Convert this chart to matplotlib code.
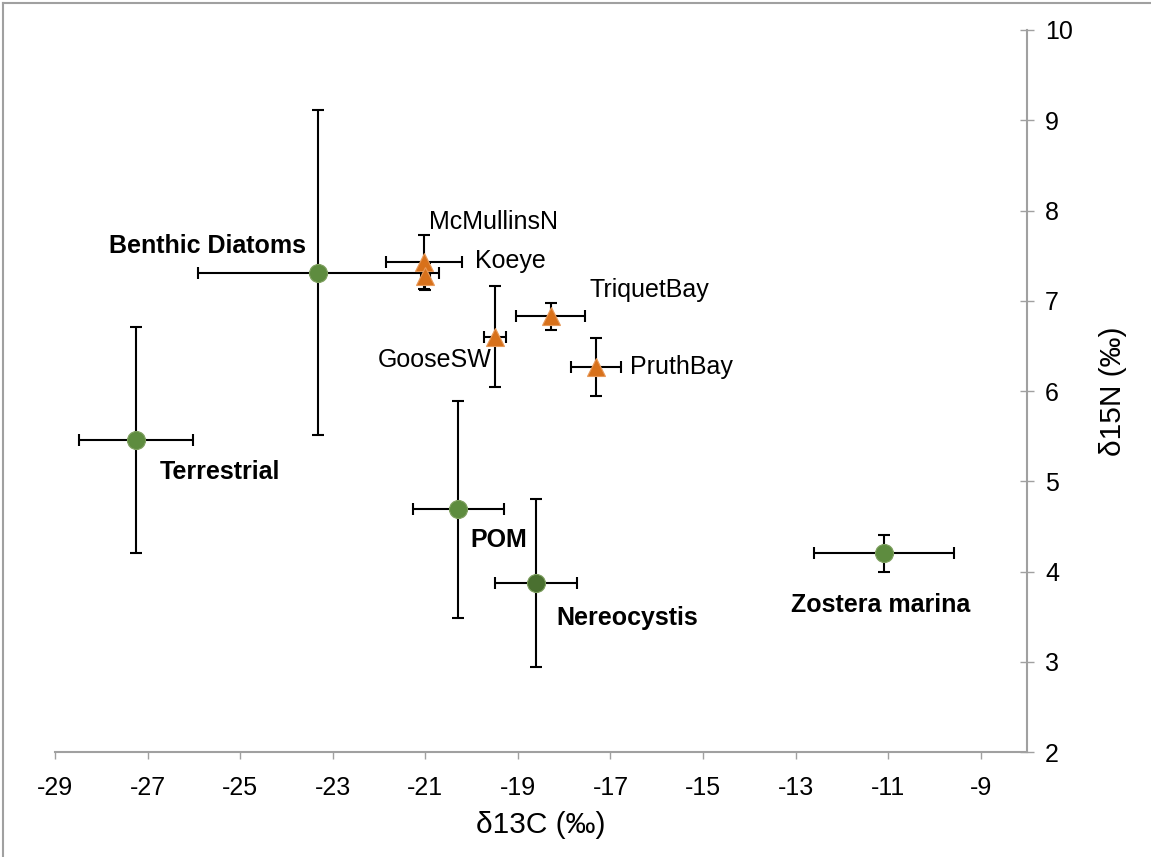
import matplotlib
matplotlib.use("Agg")
import matplotlib.pyplot as plt
from matplotlib.lines import Line2D

plt.rcParams['font.family'] = ['Liberation Sans', 'DejaVu Sans']
plt.rcParams['axes.unicode_minus'] = False

# sources (green circles)
src_names = ['Terrestrial', 'Benthic Diatoms', 'POM', 'Nereocystis', 'Zostera marina']
src_c = [-27.25, -23.31, -20.29, -18.61, -11.09]
src_n = [5.46, 7.31, 4.69, 3.87, 4.2]
src_cerr = [1.23, 2.6, 0.98, 0.88, 1.52]
src_nerr = [1.25, 1.8, 1.2, 0.93, 0.2]
src_colors = ['#5e8c3f', '#5e8c3f', '#5e8c3f', '#4a7030', '#5e8c3f']
# label offsets in points, and alignment
src_offsets = [(17, -23), (-9, 19), (9, -22), (15, -25), (-67, -37)]
src_ha = ['left', 'right', 'left', 'left', 'left']

# sites (orange triangles)
site_names = ['McMullinsN', 'Koeye', 'GooseSW', 'TriquetBay', 'PruthBay']
site_c = [-21.03, -21.0, -19.5, -18.29, -17.32]
site_n = [7.43, 7.27, 6.6, 6.83, 6.27]
site_cerr = [0.83, 0.1, 0.24, 0.75, 0.54]
site_nerr = [0.3, 0.15, 0.56, 0.15, 0.32]
site_offsets = [(4, 29), (36, 11), (-2, -17), (28, 19), (25, 0)]
site_ha = ['left', 'left', 'right', 'left', 'left']

fig = plt.figure(figsize=(11.51, 8.57), dpi=100)
ax = fig.add_axes([0.0478, 0.1225, 0.8445, 0.8425])

for i in range(len(src_names)):
    ax.errorbar(src_c[i], src_n[i], xerr=src_cerr[i], yerr=src_nerr[i], fmt='none',
                ecolor='black', elinewidth=1.5, capsize=4.5, capthick=1.5, zorder=2)
    ax.plot(src_c[i], src_n[i], 'o', ms=13, color=src_colors[i],
            mec='#7fa060', mew=0.8, zorder=3)
    ax.annotate(src_names[i], (src_c[i], src_n[i]), xytext=src_offsets[i],
                textcoords='offset points', fontsize=18, fontweight='bold',
                va='center', ha=src_ha[i])

for i in range(len(site_names)):
    ax.errorbar(site_c[i], site_n[i], xerr=site_cerr[i], yerr=site_nerr[i], fmt='none',
                ecolor='black', elinewidth=1.5, capsize=4.5, capthick=1.5, zorder=2)
    ax.plot(site_c[i], site_n[i], '^', ms=13, color='#d8711b',
            mec='#e89a5a', mew=0.8, zorder=3)
    ax.annotate(site_names[i], (site_c[i], site_n[i]), xytext=site_offsets[i],
                textcoords='offset points', fontsize=18,
                va='center', ha=site_ha[i])

ax.set_xlim(-29, -8)
ax.set_ylim(2, 10)
ax.set_xticks(range(-29, -8, 2))
ax.set_yticks(range(2, 11))

ax.spines['left'].set_visible(False)
ax.spines['top'].set_visible(False)
for s in ['bottom', 'right']:
    ax.spines[s].set_color('#a0a0a0')
    ax.spines[s].set_linewidth(1.5)

ax.yaxis.tick_right()
ax.yaxis.set_label_position('right')
ax.tick_params(axis='x', direction='out', length=5, color='#a0a0a0', width=1,
               labelsize=18, pad=12)
ax.tick_params(axis='y', direction='inout', length=10, color='#a0a0a0', width=1,
               labelsize=18, pad=8)

ax.set_xlabel('δ13C (‰)', fontsize=21.5, labelpad=8)
ax.set_ylabel('δ15N (‰)', fontsize=21.5, labelpad=19)

# frame lines on the left and top edges of the picture
fig.add_artist(Line2D([0.003, 0.003], [0, 0.997], transform=fig.transFigure,
                      color='#a0a0a0', lw=1.5))
fig.add_artist(Line2D([0.003, 1.0], [0.997, 0.997], transform=fig.transFigure,
                      color='#a0a0a0', lw=1.5))

fig.savefig('out.png', dpi=100)
